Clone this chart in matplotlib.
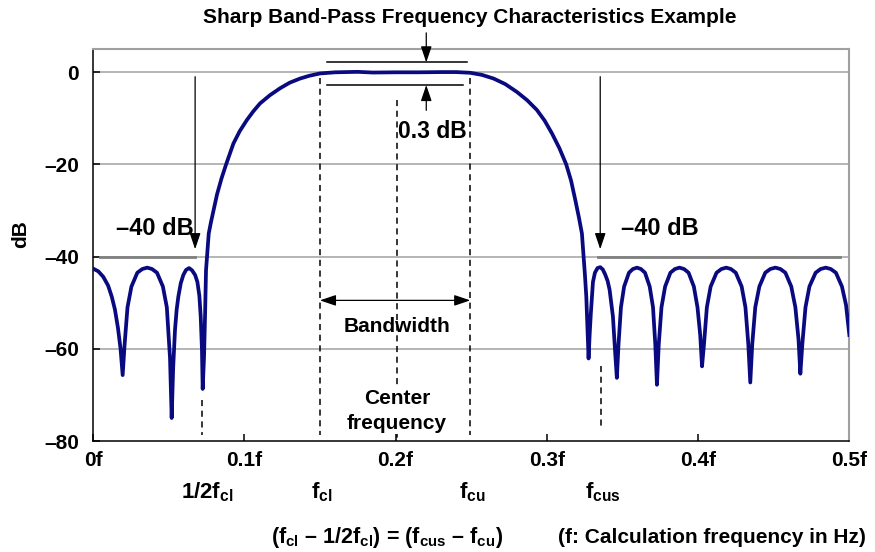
import numpy as np
import matplotlib.pyplot as plt

plt.rcParams['font.family'] = ['Liberation Sans', 'DejaVu Sans']
plt.rcParams['font.weight'] = 'bold'
plt.rcParams['mathtext.fontset'] = 'custom'
plt.rcParams['mathtext.rm'] = 'Liberation Sans:bold'
plt.rcParams['mathtext.it'] = 'Liberation Sans:bold'
plt.rcParams['mathtext.bf'] = 'Liberation Sans:bold'
plt.rcParams['mathtext.default'] = 'rm'

# response (frequency as fraction of f, gain in dB)
stop_left_f = [0.0000, 0.0035, 0.0068, 0.0100, 0.0124, 0.0145, 0.0165, 0.0182, 0.0196,
               0.0209, 0.0228, 0.0254, 0.0293, 0.0326, 0.0358, 0.0390, 0.0423, 0.0462, 0.0488,
               0.0509, 0.0520, 0.0530, 0.0542, 0.0553, 0.0564, 0.0580, 0.0597, 0.0615, 0.0635,
               0.0655, 0.0675, 0.0690, 0.0703, 0.0712, 0.0720, 0.0725, 0.0734, 0.0741, 0.0747]
stop_left_db = [-42.6, -43.2, -44.4, -46.3, -48.7, -51.5, -55.5, -60.0, -65.7,
                -59.0, -51.0, -46.5, -43.5, -42.7, -42.4, -42.7, -43.5, -46.5, -51.0,
                -62.0, -75.0, -64.0, -55.9, -51.5, -48.7, -45.8, -44.0, -42.9, -42.5,
                -43.0, -44.0, -45.5, -48.5, -53.0, -60.0, -68.7, -61.7, -52.3, -43.0]

rise_f = [0.0765, 0.0780, 0.0820, 0.0850, 0.0880, 0.0928, 0.0970, 0.1017, 0.1060, 0.1104,
          0.1170, 0.1237, 0.1300, 0.1369, 0.1430, 0.1500]
rise_db = [-35.0, -32.5, -26.5, -23.0, -20.0, -15.5, -12.8, -10.4, -8.5, -6.8,
           -5.0, -3.5, -2.3, -1.4, -0.8, -0.3]

pass_f = [0.160, 0.175, 0.185, 0.200, 0.215, 0.230, 0.240, 0.2493]
pass_db = [-0.05, 0.05, -0.1, -0.05, -0.05, 0.0, 0.0, -0.15]

fall_f = [0.2570, 0.2648, 0.2725, 0.2802, 0.2870, 0.2934, 0.2985, 0.3034, 0.3083, 0.3128,
          0.3160, 0.3188, 0.3212, 0.3232, 0.3252, 0.3261]
fall_db = [-0.6, -1.4, -2.6, -4.3, -6.1, -8.2, -10.5, -13.3, -16.5, -20.0,
           -23.5, -27.7, -31.5, -35.0, -44.0, -48.7]

stop_right_f = [0.3276, 0.3283, 0.3291, 0.3305, 0.3318, 0.3335, 0.3353, 0.3370, 0.3386, 0.3402,
                0.3415, 0.3437, 0.3452, 0.3463,
                0.3474, 0.3490, 0.3511, 0.3543, 0.3569, 0.3596, 0.3622, 0.3649, 0.3680, 0.3702,
                0.3717, 0.3728,
                0.3740, 0.3758, 0.3782, 0.3817, 0.3847, 0.3877, 0.3907, 0.3937, 0.3972, 0.3996,
                0.4014, 0.4026,
                0.4039, 0.4058, 0.4083, 0.4122, 0.4154, 0.4186, 0.4217, 0.4249, 0.4288, 0.4313,
                0.4332, 0.4345,
                0.4358, 0.4378, 0.4405, 0.4444, 0.4477, 0.4511, 0.4544, 0.4577, 0.4616, 0.4643,
                0.4664, 0.4676,
                0.4689, 0.4710, 0.4736, 0.4777, 0.4810, 0.4844, 0.4877, 0.4911, 0.4951, 0.4978,
                0.5000]
stop_right_db = [-62.1, -57.0, -52.3, -45.5, -43.5, -42.5, -42.3, -42.8, -43.9, -45.3,
                 -47.2, -53.0, -60.9, -66.3,
                 -59.0, -51.0, -46.5, -43.5, -42.7, -42.4, -42.7, -43.5, -46.5, -51.0,
                 -59.0, -67.8,
                 -59.0, -51.0, -46.5, -43.5, -42.7, -42.4, -42.7, -43.5, -46.5, -51.0,
                 -57.0, -63.8,
                 -59.0, -51.0, -46.5, -43.5, -42.7, -42.4, -42.7, -43.5, -46.5, -51.0,
                 -59.0, -67.3,
                 -59.0, -51.0, -46.5, -43.5, -42.7, -42.4, -42.7, -43.5, -46.5, -51.0,
                 -58.0, -65.4,
                 -59.0, -51.0, -46.5, -43.5, -42.7, -42.4, -42.7, -43.5, -46.5, -50.5,
                 -57.0]

x_ticks = [0, 0.1, 0.2, 0.3, 0.4, 0.5]
x_tick_labels = ['0f', '0.1f', '0.2f', '0.3f', '0.4f', '0.5f']
y_ticks = [0, -20, -40, -60, -80]
y_tick_labels = ['0', '\u201320', '\u201340', '\u201360', '\u201380']

f_half_cl = 0.0721
f_cl = 0.150
f_center = 0.201
f_cu = 0.2494
f_cus = 0.336
atten_db = -40

freq = np.concatenate([stop_left_f, rise_f, pass_f, fall_f, stop_right_f])
gain = np.concatenate([stop_left_db, rise_db, pass_db, fall_db, stop_right_db])

fig = plt.figure(figsize=(8.75, 5.52), dpi=100)
ax = fig.add_axes([0.1063, 0.201, 0.8644, 0.7102])
ax.set_xlim(0, 0.5)
ax.set_ylim(-80, 5)

for y in y_ticks[:-1]:
    ax.axhline(y, color='#a0a0a0', lw=1.1, zorder=1)

for s in ['left', 'bottom']:
    ax.spines[s].set_color('black')
    ax.spines[s].set_linewidth(1.1)
for s in ['top', 'right']:
    ax.spines[s].set_color('#a0a0a0')
    ax.spines[s].set_linewidth(1.5)

ax.set_xticks(x_ticks)
ax.set_xticklabels(x_tick_labels)
ax.set_yticks(y_ticks)
ax.set_yticklabels(y_tick_labels)
ax.tick_params(direction='in', length=5, width=1.1, labelsize=15)
ax.tick_params(axis='x', pad=7)
ax.tick_params(axis='y', pad=10)

ax.plot(freq, gain, color='#0a0a80', lw=2.7, zorder=5, solid_joinstyle='round')

# -40 dB markers
ax.plot([0.0046, 0.0675], [atten_db, atten_db], color='#808080', lw=2, zorder=2)
ax.plot([0.334, 0.494], [atten_db, atten_db], color='#808080', lw=2, zorder=2)
arrow = dict(arrowstyle='-|>,head_length=0.65,head_width=0.22', color='k', lw=0.9,
             mutation_scale=15, shrinkA=0, shrinkB=0)
ax.annotate('', xy=(0.0675, -38.4), xytext=(0.0675, -1.0), arrowprops=arrow)
ax.annotate('', xy=(0.3353, -38.4), xytext=(0.3353, -1.0), arrowprops=arrow)
ax.text(0.041, -34, '\u201340 dB', ha='center', va='center', fontsize=17)
ax.text(0.375, -34, '\u201340 dB', ha='center', va='center', fontsize=17)

# dashed markers
dash = dict(color='k', lw=1.1, ls=(0, (4, 3)), zorder=3)
ax.plot([f_half_cl, f_half_cl], [-71, -78.6], **dash)
ax.plot([f_cl, f_cl], [-1.3, -78.6], **dash)
ax.plot([f_center, f_center], [-6, -80], **dash)
ax.plot([f_cu, f_cu], [-1.3, -78.6], **dash)
ax.plot([f_cus, f_cus], [-63.8, -77], **dash)

# 0.3 dB ripple
ax.plot([0.1546, 0.2471], [2.1, 2.1], color='k', lw=1.1, zorder=4)
ax.plot([0.1546, 0.2447], [-2.8, -2.8], color='k', lw=1.1, zorder=4)
ax.annotate('', xy=(0.2203, 2.1), xytext=(0.2203, 8.5), arrowprops=arrow,
            annotation_clip=False)
ax.annotate('', xy=(0.2203, -2.8), xytext=(0.2203, -8.3), arrowprops=arrow)
ax.text(0.2242, -12.8, '0.3 dB', ha='center', va='center', fontsize=16.5)

# bandwidth
ax.annotate('', xy=(f_cl, -49.5), xytext=(f_cu, -49.5),
            arrowprops=dict(arrowstyle='<|-|>,head_length=0.65,head_width=0.22', color='k',
                            lw=0.9, mutation_scale=15, shrinkA=0, shrinkB=0))
ax.text(f_center, -55.2, 'Bandwidth', ha='center', va='center', fontsize=15)
ax.text(f_center, -73.4, 'Center\nfrequency', ha='center', va='center', fontsize=15,
        linespacing=1.4, zorder=6,
        bbox=dict(facecolor='white', edgecolor='none', pad=1))

# frequency names below the axis
xt = ax.get_xaxis_transform()
ax.text(0.0754, -0.13, '1/2$f_{cl}$', transform=xt, ha='center', va='center', fontsize=16)
ax.text(0.1515, -0.13, '$f_{cl}$', transform=xt, ha='center', va='center', fontsize=16)
ax.text(0.2507, -0.13, '$f_{cu}$', transform=xt, ha='center', va='center', fontsize=16)
ax.text(0.3373, -0.13, '$f_{cus}$', transform=xt, ha='center', va='center', fontsize=16)

fig.text(0.442, 0.027, '($f_{cl}$ \u2013 1/2$f_{cl}$) = ($f_{cus}$ \u2013 $f_{cu}$)',
         ha='center', va='center', fontsize=15.5)
fig.text(0.8131, 0.027, '(f: Calculation frequency in Hz)', ha='center', va='center',
         fontsize=15)

ax.set_ylabel('dB', fontsize=15, fontweight='bold')
ax.yaxis.set_label_coords(-0.083, 0.529)
fig.text(0.537, 0.969, 'Sharp Band-Pass Frequency Characteristics Example',
         ha='center', va='center', fontsize=15)

fig.savefig('out.png', dpi=100)
